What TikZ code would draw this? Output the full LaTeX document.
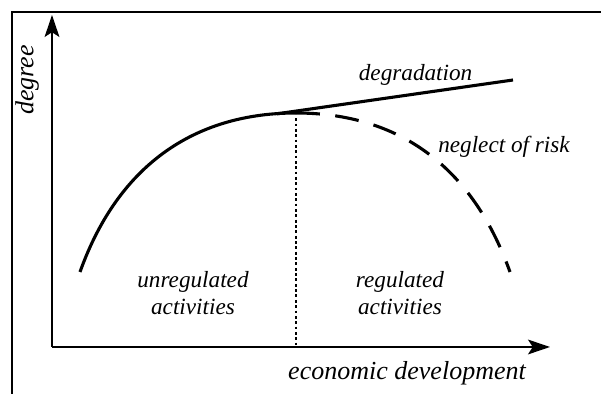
\documentclass[tikz,border=0pt]{standalone}
\usepackage{fontspec}
\setmainfont{Liberation Serif}[ItalicFont=Liberation Serif Italic]
\usetikzlibrary{arrows.meta}
\tikzset{
  frameline/.style={line width=1.8pt},
  axis/.style={line width=1.3pt, -{Stealth[length=5.5mm, width=3.7mm, inset=1.2mm]}},
  curve/.style={line width=2.2pt},
  riskcurve/.style={curve, dash pattern=on 17pt off 11pt},
  splitline/.style={line width=2pt, dash pattern=on 2pt off 1.8pt},
  lbl/.style={font=\itshape\fontsize{16.5}{19.2}\selectfont, inner sep=0pt},
  biglbl/.style={font=\itshape\fontsize{18.5}{21}\selectfont, inner sep=0pt},
}

\begin{document}
\begin{tikzpicture}
    \useasboundingbox (-1.3,-1.175) rectangle (13.725,8.675);
    \draw[frameline] (-1,-1.4) -- (-1,8.375) -- (13.9,8.375);

    \coordinate (o) at (0,0);
    \coordinate (ytip) at (0,8.3);
    \coordinate (xtip) at (12.45,0);
    \draw[axis] (o) -- (ytip);
    \draw[axis] (o) -- (xtip);

    \coordinate (start) at (0.7,1.875);
    \coordinate (peak) at (6.1,5.85);
    \coordinate (fall) at (11.45,1.875);
    \coordinate (degstart) at (5.625,5.83);
    \coordinate (degend) at (11.525,6.675);
    \coordinate (splittop) at (6.1,5.72);
    \coordinate (splitfoot) at (6.1,0);

    \draw[curve] (start) .. controls (1.7,4.675) and (3.7,5.85) .. (peak);
    \draw[riskcurve] (peak) .. controls (8.5,5.85) and (10.45,4.675) .. (fall);
    \draw[curve] (degstart) -- (degend);
    \draw[splitline] (splittop) -- (splitfoot);

    \node[biglbl, rotate=90] (ylab) at (-0.625,6.675) {degree};
    \node[biglbl, anchor=base] (xlab) at (8.875,-0.825) {economic development};
    \node[lbl, anchor=base] (deglab) at (9.09,6.65) {degradation};
    \node[lbl, anchor=base] (risklab) at (11.3,4.85) {neglect of risk};
    \node[lbl, align=center] (unreg) at (3.525,1.35) {unregulated\\activities};
    \node[lbl, align=center] (reg) at (8.7,1.35) {regulated\\activities};
  \end{tikzpicture}
\end{document}
